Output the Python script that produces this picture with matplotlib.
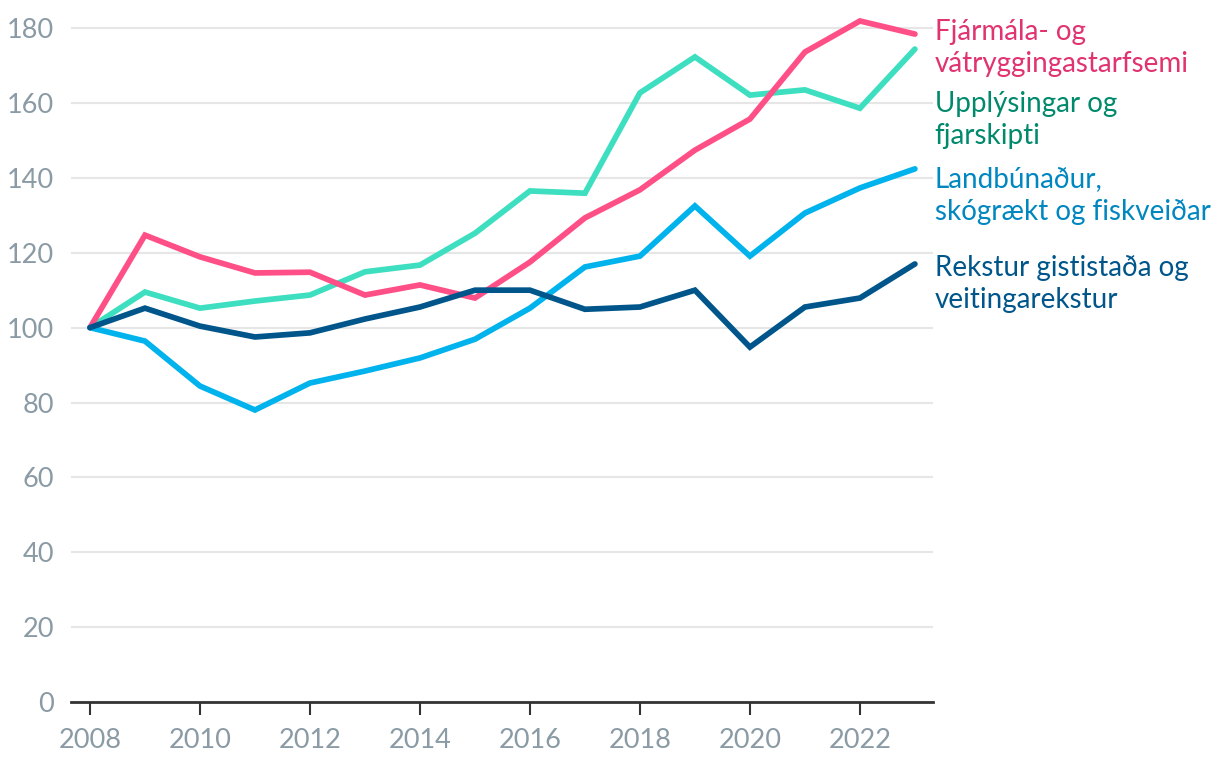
import matplotlib.pyplot as plt

years = list(range(2008, 2024))

fjarmal = [100, 124.7, 118.9, 114.6, 114.8, 108.7, 111.4, 107.9, 117.5, 129.3,
           136.8, 147.4, 155.7, 173.6, 181.9, 178.4]
upplys = [100, 109.5, 105.2, 107.1, 108.7, 114.9, 116.7, 125.2, 136.5, 135.9,
          162.7, 172.3, 162.1, 163.5, 158.6, 174.4]
landbun = [100, 96.4, 84.4, 78.0, 85.2, 88.4, 91.9, 96.9, 105.2, 116.2,
           119.1, 132.5, 119.1, 130.6, 137.3, 142.4]
rekstur = [100, 105.2, 100.4, 97.5, 98.6, 102.3, 105.5, 110.0, 110.0, 104.9,
           105.5, 110.0, 94.8, 105.5, 107.9, 117.0]

labels = ["Fjármála- og\nvátryggingastarfsemi",
          "Upplýsingar og\nfjarskipti",
          "Landbúnaður,\nskógrækt og fiskveiðar",
          "Rekstur gististaða og\nveitingarekstur"]

line_colors = ["#ff4f87", "#3ddfc0", "#00b3ec", "#00568a"]
text_colors = ["#e0336f", "#00896b", "#0087c0", "#00568a"]
label_y = [174.7, 155.4, 135.1, 111.6]

plt.rcParams['font.family'] = ['Lato', 'DejaVu Sans']

fig = plt.figure(figsize=(12.2, 7.68), dpi=100)
ax = fig.add_axes([0.0582, 0.0859, 0.7066, 0.9019])

series = [fjarmal, upplys, landbun, rekstur]
zorders = [3, 2, 4, 5]
for s, c, z in zip(series, line_colors, zorders):
    ax.plot(years, s, color=c, lw=4.1, solid_capstyle='round',
            solid_joinstyle='miter', zorder=z)

for lab, c, y in zip(labels, text_colors, label_y):
    ax.text(2023.36, y, lab, color=c, fontsize=20, va='center', ha='left',
            linespacing=1.3, clip_on=False)

ax.set_xlim(2007.655, 2023.33)
ax.set_ylim(0, 185)
ax.set_yticks(range(0, 181, 20))
ax.set_xticks(range(2008, 2023, 2))
ax.grid(axis='y', color='#e6e6e6', lw=1.5)
ax.set_axisbelow(True)

for sp in ['top', 'right', 'left']:
    ax.spines[sp].set_visible(False)
ax.spines['bottom'].set_color('#333333')
ax.spines['bottom'].set_linewidth(2)
ax.spines['bottom'].set_zorder(6)

ax.tick_params(axis='y', length=0, pad=12, labelsize=19.5, labelcolor='#8a9ba5')
ax.tick_params(axis='x', length=9, width=1.5, color='#333333', pad=10,
               labelsize=19.5, labelcolor='#8a9ba5')

fig.savefig("out.png", dpi=100)
